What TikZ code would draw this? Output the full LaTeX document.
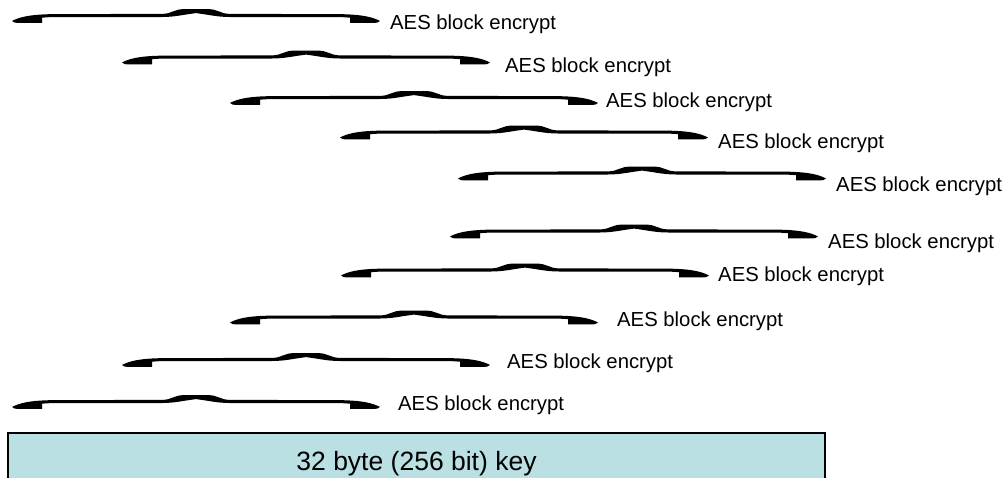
\documentclass[tikz,border=0pt]{standalone}
\usepackage{fontspec}
\setmainfont{Liberation Sans}
\definecolor{keyfill}{RGB}{187,224,227}
\tikzset{
  curlybrace/.pic={
    \fill[black]
      (0,5.4) .. controls (5,3.0) and (12,0.0) .. (30,-1.0)
      .. controls (36,-1.3) .. (45,-1.4)
      -- (150,-1.6) .. controls (160,-1.7) and (162,-6.4) .. (172,-6.4)
      -- (196,-6.4) .. controls (206,-6.4) and (208,-1.7) .. (218,-1.6)
      -- (323,-1.4) .. controls (332,-1.3) .. (338,-1.0)
      .. controls (356,0.0) and (363,3.0) .. (368,5.4)
      .. controls (367,7.0) and (365,7.4) .. (360,7.4)
      -- (338,7.4) -- (338,2.2) .. controls (332,1.7) .. (323,1.6)
      -- (218,1.5) .. controls (205,1.4) and (200,-0.3) .. (184,-2.4)
      .. controls (168,-0.3) and (163,1.4) .. (150,1.5)
      -- (45,1.6) .. controls (36,1.7) .. (30,2.2)
      -- (30,7.4) -- (8,7.4) .. controls (3,7.4) and (1,7.0) .. cycle;
  },
  stagelabel/.style={anchor=base west, inner sep=0pt,
    font=\fontsize{20.3}{24}\selectfont},
  keybox/.style={draw=black, line width=1.2pt, fill=keyfill},
  keytext/.style={anchor=base, inner sep=0pt,
    font=\fontsize{26.5}{30}\selectfont}
}
\begin{document}
\begin{tikzpicture}[x=1pt,y=-1pt]
  \clip (0,0) rectangle (1006,477);
  % staircase of encryption rounds, each with its brace and label
  \pic (b1)  at (12,15.5)  {curlybrace};
  \pic (b2)  at (122,57)   {curlybrace};
  \pic (b3)  at (230,97.5) {curlybrace};
  \pic (b4)  at (340,132)  {curlybrace};
  \pic (b5)  at (458,173)  {curlybrace};
  \pic (b6)  at (450,231)  {curlybrace};
  \pic (b7)  at (341,270)  {curlybrace};
  \pic (b8)  at (230,317)  {curlybrace};
  \pic (b9)  at (122,359.5){curlybrace};
  \pic (b10) at (12,401.5) {curlybrace};
  \node[stagelabel] (l1)  at (390,29.8)  {AES block encrypt};
  \node[stagelabel] (l2)  at (505,72.3)  {AES block encrypt};
  \node[stagelabel] (l3)  at (606,107.3) {AES block encrypt};
  \node[stagelabel] (l4)  at (718,148.3) {AES block encrypt};
  \node[stagelabel] (l5)  at (836,191.3) {AES block encrypt};
  \node[stagelabel] (l6)  at (828,248.3) {AES block encrypt};
  \node[stagelabel] (l7)  at (718,281.3) {AES block encrypt};
  \node[stagelabel] (l8)  at (617,326.3) {AES block encrypt};
  \node[stagelabel] (l9)  at (507,368.3) {AES block encrypt};
  \node[stagelabel] (l10) at (398,410.3) {AES block encrypt};
  % key box, running past the lower edge
  \draw[keybox] (8,433) rectangle (825,500);
  \node[keytext] (key) at (416.5,470) {32 byte (256 bit) key};
\end{tikzpicture}
\end{document}
